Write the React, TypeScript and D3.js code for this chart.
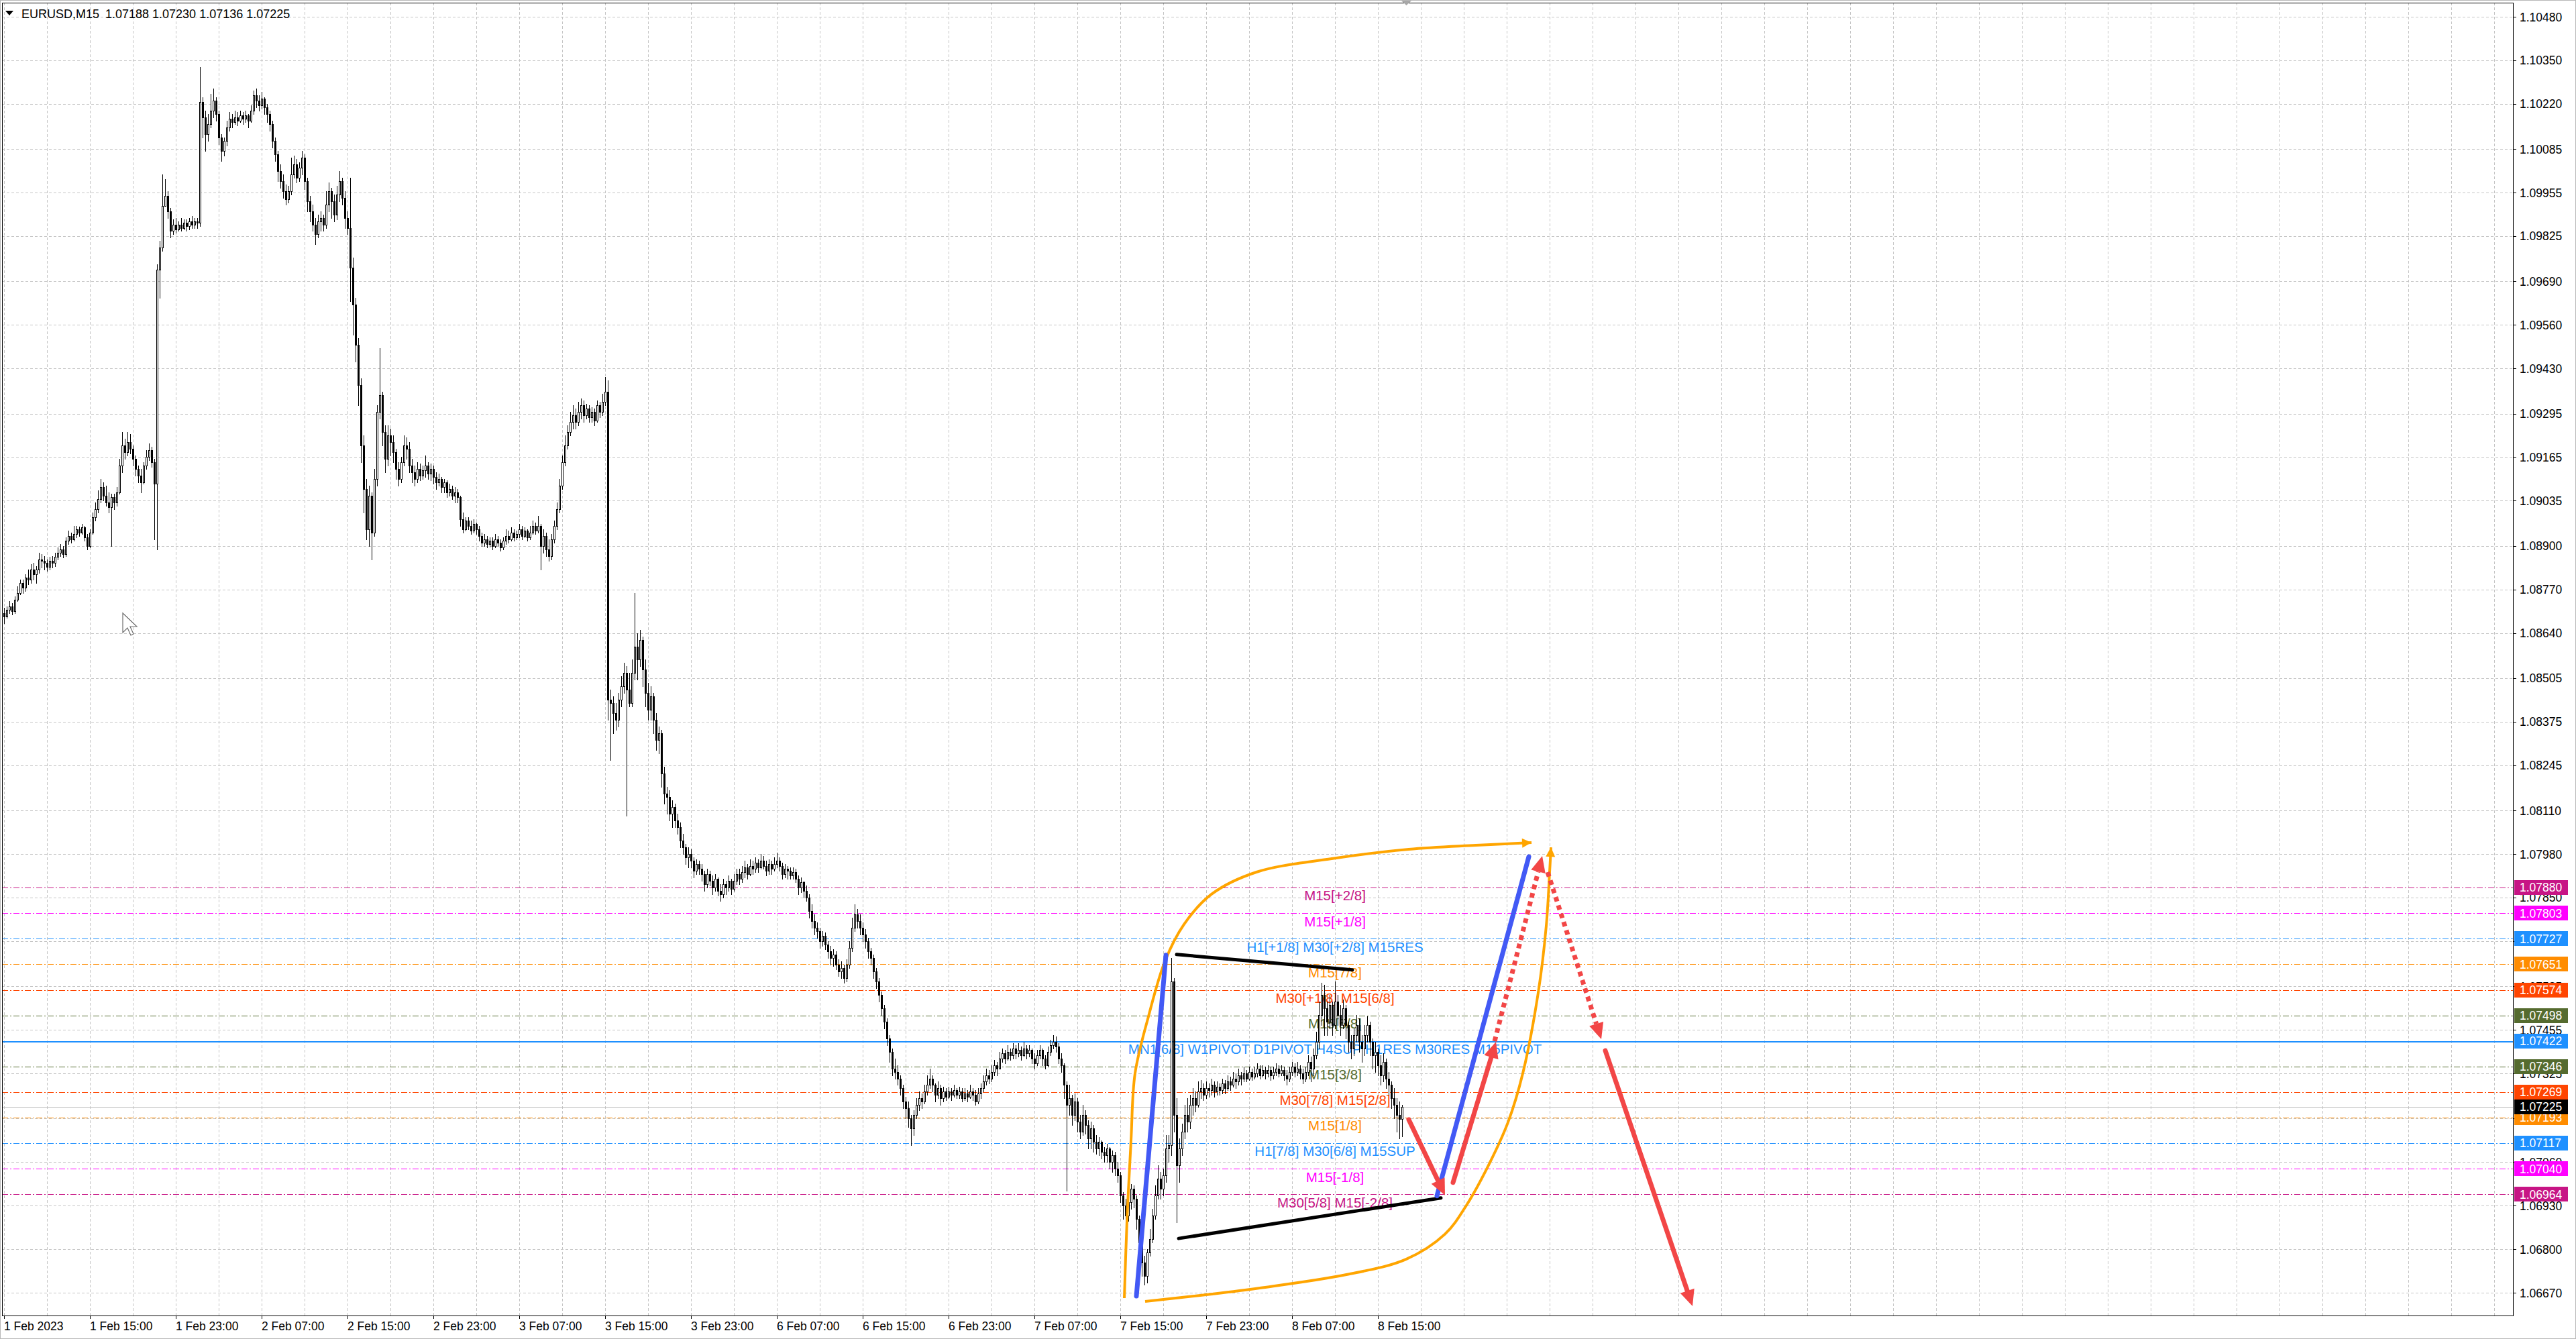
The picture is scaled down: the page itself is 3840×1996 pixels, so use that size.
import React from 'react';
import * as d3 from 'd3';

type Bar = [number, number, number]; // high, low, close (open = previous close)

const FIRST_OPEN = 1.087;

const feb1: Bar[] = [
  [1.08715,1.08670,1.08690],[1.08720,1.08685,1.08710],[1.08735,1.08700,1.08720],[1.08730,1.08695,1.08705],[1.08750,1.08700,1.08740],[1.08780,1.08735,1.08760],[1.08800,1.08755,1.08790],[1.08800,1.08760,1.08775],
  [1.08815,1.08765,1.08805],[1.08830,1.08785,1.08800],[1.08845,1.08790,1.08830],[1.08850,1.08800,1.08815],[1.08840,1.08790,1.08830],[1.08880,1.08820,1.08860],[1.08875,1.08835,1.08855],[1.08870,1.08830,1.08850],
  [1.08860,1.08825,1.08838],[1.08868,1.08830,1.08855],[1.08870,1.08835,1.08850],[1.08880,1.08840,1.08868],[1.08895,1.08860,1.08880],[1.08905,1.08870,1.08890],[1.08900,1.08865,1.08875],[1.08925,1.08870,1.08915],
  [1.08945,1.08905,1.08930],[1.08940,1.08910,1.08920],[1.08960,1.08915,1.08935],[1.08960,1.08925,1.08950],[1.08958,1.08930,1.08940],[1.08965,1.08935,1.08955],[1.08960,1.08915,1.08925],[1.08935,1.08890,1.08900],
  [1.08950,1.08895,1.08940],[1.09000,1.08935,1.08985],[1.09030,1.08975,1.09010],[1.09065,1.09000,1.09040],[1.09100,1.09030,1.09075],[1.09090,1.09035,1.09050],[1.09080,1.09020,1.09030],[1.09060,1.09000,1.09015],
  [1.09055,1.08900,1.09045],[1.09055,1.09010,1.09030],[1.09075,1.09020,1.09060],[1.09160,1.09055,1.09140],[1.09240,1.09120,1.09200],[1.09220,1.09160,1.09180],[1.09240,1.09170,1.09210],[1.09235,1.09175,1.09190],
  [1.09200,1.09140,1.09160],[1.09170,1.09110,1.09130],[1.09140,1.09090,1.09110],[1.09130,1.09060,1.09090],[1.09150,1.09085,1.09140],[1.09185,1.09130,1.09165],[1.09205,1.09155,1.09185],[1.09195,1.09135,1.09150],
  [1.09160,1.08920,1.09085],[1.09740,1.08890,1.09725],[1.09810,1.09640,1.09790],[1.10010,1.09780,1.09915],[1.09995,1.09915,1.09945],[1.09960,1.09880,1.09900],[1.09910,1.09820,1.09840],[1.09875,1.09830,1.09860],
  [1.09880,1.09835,1.09845],[1.09870,1.09840,1.09860],[1.09880,1.09840,1.09850],[1.09875,1.09845,1.09865],
];

const feb2: Bar[] = [
  [1.09875,1.09840,1.09855],[1.09880,1.09845,1.09870],[1.09885,1.09850,1.09860],[1.09880,1.09850,1.09870],[1.09880,1.09850,1.09865],[1.10330,1.09855,1.10225],[1.10240,1.10120,1.10180],[1.10200,1.10080,1.10130],
  [1.10190,1.10110,1.10160],[1.10250,1.10150,1.10200],[1.10265,1.10180,1.10230],[1.10240,1.10170,1.10190],[1.10200,1.10100,1.10120],[1.10130,1.10050,1.10080],[1.10120,1.10065,1.10110],[1.10170,1.10095,1.10150],
  [1.10195,1.10140,1.10175],[1.10190,1.10150,1.10165],[1.10200,1.10160,1.10180],[1.10195,1.10155,1.10170],[1.10200,1.10165,1.10185],[1.10195,1.10160,1.10175],[1.10200,1.10165,1.10185],[1.10190,1.10150,1.10170],
  [1.10215,1.10165,1.10200],[1.10260,1.10190,1.10245],[1.10265,1.10210,1.10230],[1.10245,1.10200,1.10215],[1.10255,1.10205,1.10235],[1.10240,1.10190,1.10210],[1.10220,1.10165,1.10190],[1.10200,1.10140,1.10160],
  [1.10170,1.10090,1.10110],[1.10120,1.10050,1.10070],[1.10080,1.09990,1.10020],[1.10040,1.09970,1.09990],[1.10010,1.09940,1.09960],[1.09980,1.09920,1.09935],[1.09975,1.09925,1.09960],[1.10060,1.09950,1.10010],
  [1.10065,1.10000,1.10040],[1.10055,1.09985,1.10000],[1.10045,1.09990,1.10030],[1.10080,1.10010,1.10060],[1.10070,1.09965,1.09990],[1.10000,1.09900,1.09930],[1.09945,1.09870,1.09900],[1.09920,1.09840,1.09860],
  [1.09880,1.09800,1.09830],[1.09890,1.09820,1.09870],[1.09900,1.09840,1.09880],[1.09890,1.09840,1.09860],[1.09960,1.09850,1.09920],[1.09985,1.09900,1.09960],[1.09970,1.09880,1.09930],[1.09950,1.09870,1.09890],
  [1.09975,1.09875,1.09950],[1.10020,1.09930,1.09990],[1.10000,1.09920,1.09940],[1.09960,1.09850,1.09880],[1.09900,1.09830,1.09850],[1.10000,1.09630,1.09730],[1.09760,1.09530,1.09620],[1.09640,1.09450,1.09500],
  [1.09520,1.09320,1.09380],[1.09400,1.09150,1.09200],[1.09230,1.09000,1.09070],[1.09100,1.08920,1.08950],[1.09080,1.08900,1.09050],[1.09060,1.08860,1.08940],[1.09130,1.08930,1.09100],[1.09320,1.09080,1.09300],
  [1.09490,1.09280,1.09350],[1.09360,1.09200,1.09240],[1.09260,1.09120,1.09160],[1.09260,1.09140,1.09230],[1.09250,1.09170,1.09210],[1.09230,1.09150,1.09180],[1.09190,1.09100,1.09130],[1.09150,1.09080,1.09100],
  [1.09165,1.09090,1.09150],[1.09230,1.09140,1.09200],[1.09225,1.09160,1.09190],[1.09210,1.09120,1.09140],[1.09160,1.09090,1.09120],[1.09140,1.09080,1.09100],[1.09150,1.09090,1.09130],[1.09145,1.09095,1.09110],
  [1.09140,1.09100,1.09125],[1.09170,1.09105,1.09140],[1.09150,1.09100,1.09115],[1.09145,1.09095,1.09130],[1.09140,1.09085,1.09105],[1.09120,1.09070,1.09090],[1.09115,1.09080,1.09100],[1.09105,1.09060,1.09075],
];

const feb3: Bar[] = [
  [1.09100,1.09060,1.09090],[1.09095,1.09045,1.09060],[1.09085,1.09050,1.09070],[1.09080,1.09040,1.09050],[1.09075,1.09030,1.09060],[1.09070,1.09030,1.09045],[1.09050,1.08960,1.08980],[1.09000,1.08940,1.08950],
  [1.08985,1.08945,1.08975],[1.08985,1.08950,1.08960],[1.08975,1.08935,1.08945],[1.08980,1.08940,1.08965],[1.08970,1.08935,1.08950],[1.08960,1.08915,1.08930],[1.08940,1.08900,1.08910],[1.08935,1.08900,1.08920],
  [1.08930,1.08895,1.08905],[1.08925,1.08898,1.08915],[1.08925,1.08890,1.08900],[1.08935,1.08895,1.08920],[1.08930,1.08900,1.08910],[1.08920,1.08885,1.08895],[1.08925,1.08890,1.08915],[1.08950,1.08905,1.08930],
  [1.08945,1.08910,1.08920],[1.08955,1.08915,1.08940],[1.08950,1.08915,1.08925],[1.08945,1.08920,1.08935],[1.08965,1.08925,1.08950],[1.08960,1.08920,1.08930],[1.08955,1.08925,1.08945],[1.08950,1.08915,1.08925],
  [1.08960,1.08920,1.08940],[1.08975,1.08935,1.08960],[1.08970,1.08935,1.08945],[1.08990,1.08940,1.08960],[1.08965,1.08830,1.08900],[1.08950,1.08880,1.08930],[1.08940,1.08870,1.08890],[1.08920,1.08855,1.08870],
  [1.08935,1.08860,1.08920],[1.08975,1.08910,1.08960],[1.09030,1.08950,1.09010],[1.09100,1.09000,1.09080],[1.09170,1.09070,1.09150],[1.09230,1.09140,1.09200],[1.09260,1.09190,1.09240],[1.09300,1.09230,1.09270],
  [1.09320,1.09250,1.09290],[1.09310,1.09250,1.09270],[1.09330,1.09260,1.09300],[1.09340,1.09280,1.09320],[1.09335,1.09270,1.09290],[1.09325,1.09280,1.09310],[1.09320,1.09270,1.09285],[1.09315,1.09270,1.09300],
  [1.09310,1.09260,1.09275],[1.09335,1.09270,1.09320],[1.09330,1.09285,1.09300],[1.09355,1.09290,1.09330],[1.09405,1.09320,1.09360],[1.09395,1.08380,1.08440],[1.08470,1.08260,1.08430],[1.08450,1.08340,1.08400],
  [1.08430,1.08350,1.08380],[1.08460,1.08360,1.08440],[1.08510,1.08420,1.08480],[1.08550,1.08460,1.08520],[1.08540,1.08095,1.08470],[1.08520,1.08420,1.08430],[1.08560,1.08420,1.08520],[1.08760,1.08500,1.08600],
  [1.08640,1.08500,1.08560],[1.08650,1.08540,1.08620],[1.08630,1.08480,1.08530],[1.08560,1.08420,1.08460],[1.08490,1.08380,1.08410],[1.08480,1.08380,1.08450],[1.08460,1.08340,1.08380],[1.08400,1.08290,1.08320],
  [1.08360,1.08280,1.08340],[1.08350,1.08180,1.08220],[1.08240,1.08130,1.08160],[1.08180,1.08100,1.08150],[1.08170,1.08080,1.08100],[1.08140,1.08060,1.08120],[1.08130,1.08060,1.08080],[1.08100,1.08040,1.08060],
  [1.08075,1.08000,1.08020],[1.08040,1.07980,1.08000],[1.08010,1.07950,1.07970],[1.08000,1.07940,1.07980],[1.07995,1.07940,1.07960],[1.07970,1.07910,1.07930],[1.07965,1.07920,1.07950],[1.07960,1.07920,1.07935],
];

const feb6: Bar[] = [
  [1.07950,1.07900,1.07920],[1.07930,1.07870,1.07890],[1.07935,1.07880,1.07920],[1.07930,1.07885,1.07900],[1.07915,1.07860,1.07880],[1.07920,1.07870,1.07905],[1.07910,1.07855,1.07870],[1.07890,1.07840,1.07860],
  [1.07905,1.07850,1.07890],[1.07900,1.07860,1.07880],[1.07915,1.07870,1.07900],[1.07905,1.07860,1.07875],[1.07920,1.07870,1.07900],[1.07935,1.07890,1.07920],[1.07935,1.07890,1.07905],[1.07945,1.07895,1.07925],
  [1.07960,1.07910,1.07940],[1.07950,1.07905,1.07920],[1.07965,1.07915,1.07945],[1.07960,1.07920,1.07935],[1.07970,1.07925,1.07955],[1.07965,1.07925,1.07940],[1.07980,1.07935,1.07960],[1.07975,1.07935,1.07945],
  [1.07960,1.07915,1.07930],[1.07965,1.07920,1.07950],[1.07960,1.07920,1.07935],[1.07970,1.07930,1.07950],[1.07985,1.07940,1.07960],[1.07970,1.07930,1.07945],[1.07955,1.07905,1.07920],[1.07950,1.07910,1.07935],
  [1.07945,1.07905,1.07930],[1.07940,1.07905,1.07915],[1.07940,1.07905,1.07925],[1.07935,1.07895,1.07905],[1.07915,1.07860,1.07880],[1.07910,1.07865,1.07895],[1.07900,1.07850,1.07870],[1.07885,1.07840,1.07850],
  [1.07860,1.07790,1.07810],[1.07830,1.07760,1.07780],[1.07800,1.07740,1.07760],[1.07775,1.07730,1.07750],[1.07760,1.07700,1.07720],[1.07750,1.07705,1.07735],[1.07745,1.07695,1.07710],[1.07720,1.07670,1.07690],
  [1.07705,1.07650,1.07670],[1.07695,1.07645,1.07680],[1.07690,1.07635,1.07650],[1.07665,1.07615,1.07630],[1.07660,1.07610,1.07640],[1.07650,1.07595,1.07610],[1.07665,1.07600,1.07650],[1.07720,1.07640,1.07700],
  [1.07790,1.07690,1.07760],[1.07830,1.07750,1.07800],[1.07815,1.07760,1.07780],[1.07800,1.07740,1.07760],[1.07775,1.07720,1.07740],[1.07755,1.07700,1.07720],[1.07730,1.07670,1.07690],[1.07700,1.07650,1.07670],
  [1.07680,1.07610,1.07630],[1.07640,1.07580,1.07600],[1.07610,1.07540,1.07560],[1.07570,1.07500,1.07520],[1.07530,1.07460,1.07480],[1.07490,1.07410,1.07430],[1.07440,1.07360,1.07390],[1.07400,1.07320,1.07340],
  [1.07370,1.07310,1.07330],[1.07350,1.07290,1.07310],[1.07320,1.07260,1.07280],[1.07290,1.07220,1.07240],[1.07255,1.07190,1.07220],[1.07240,1.07165,1.07190],[1.07200,1.07110,1.07160],[1.07215,1.07140,1.07200],
  [1.07250,1.07190,1.07230],[1.07270,1.07215,1.07250],[1.07265,1.07220,1.07240],[1.07290,1.07235,1.07270],[1.07320,1.07260,1.07290],[1.07340,1.07280,1.07310],[1.07320,1.07270,1.07290],[1.07295,1.07240,1.07260],
  [1.07300,1.07250,1.07280],[1.07290,1.07230,1.07250],[1.07285,1.07240,1.07270],[1.07280,1.07245,1.07255],[1.07285,1.07250,1.07270],[1.07280,1.07245,1.07260],[1.07290,1.07255,1.07275],[1.07280,1.07250,1.07260],
];

const feb7: Bar[] = [
  [1.07285,1.07250,1.07270],[1.07280,1.07240,1.07250],[1.07280,1.07245,1.07265],[1.07275,1.07240,1.07255],[1.07290,1.07250,1.07270],[1.07280,1.07245,1.07260],[1.07275,1.07230,1.07240],[1.07280,1.07235,1.07265],
  [1.07295,1.07250,1.07280],[1.07320,1.07270,1.07300],[1.07340,1.07290,1.07320],[1.07335,1.07295,1.07310],[1.07350,1.07300,1.07330],[1.07365,1.07320,1.07350],[1.07360,1.07320,1.07340],[1.07390,1.07340,1.07370],
  [1.07400,1.07360,1.07385],[1.07395,1.07355,1.07370],[1.07410,1.07365,1.07390],[1.07400,1.07365,1.07380],[1.07415,1.07370,1.07400],[1.07410,1.07370,1.07385],[1.07415,1.07375,1.07395],[1.07405,1.07365,1.07380],
  [1.07420,1.07375,1.07400],[1.07410,1.07370,1.07385],[1.07410,1.07375,1.07395],[1.07400,1.07355,1.07370],[1.07385,1.07340,1.07355],[1.07395,1.07350,1.07380],[1.07410,1.07370,1.07395],[1.07400,1.07350,1.07370],
  [1.07380,1.07340,1.07350],[1.07405,1.07345,1.07390],[1.07425,1.07380,1.07410],[1.07440,1.07400,1.07420],[1.07435,1.07390,1.07405],[1.07415,1.07355,1.07370],[1.07385,1.07330,1.07350],[1.07355,1.07250,1.07290],
  [1.07300,1.06975,1.07230],[1.07290,1.07200,1.07250],[1.07260,1.07170,1.07200],[1.07265,1.07185,1.07240],[1.07250,1.07150,1.07180],[1.07200,1.07130,1.07150],[1.07230,1.07140,1.07200],[1.07215,1.07145,1.07170],
  [1.07185,1.07100,1.07130],[1.07180,1.07100,1.07160],[1.07170,1.07090,1.07120],[1.07140,1.07085,1.07100],[1.07135,1.07080,1.07120],[1.07125,1.07070,1.07090],[1.07105,1.07060,1.07080],[1.07115,1.07060,1.07100],
  [1.07105,1.07040,1.07060],[1.07095,1.07030,1.07080],[1.07090,1.07020,1.07040],[1.07060,1.07000,1.07020],[1.07030,1.06940,1.06960],[1.06970,1.06890,1.06930],[1.06950,1.06880,1.06900],[1.06955,1.06885,1.06940],
  [1.06995,1.06920,1.06980],[1.06990,1.06925,1.06950],[1.06960,1.06860,1.06890],[1.06900,1.06790,1.06820],[1.06840,1.06720,1.06760],[1.06780,1.06695,1.06720],[1.06800,1.06700,1.06790],[1.06860,1.06780,1.06830],
  [1.06920,1.06820,1.06900],[1.06990,1.06890,1.06960],[1.07050,1.06950,1.07010],[1.07030,1.06950,1.06980],[1.07040,1.06960,1.07020],[1.07140,1.07000,1.07100],[1.07140,1.07060,1.07110],[1.07670,1.07080,1.07600],
  [1.07610,1.07150,1.07200],[1.07250,1.06880,1.07050],[1.07130,1.07000,1.07100],[1.07175,1.07080,1.07150],[1.07230,1.07130,1.07200],[1.07250,1.07150,1.07180],[1.07260,1.07160,1.07230],[1.07280,1.07200,1.07250],
  [1.07270,1.07210,1.07230],[1.07300,1.07225,1.07270],[1.07305,1.07250,1.07280],[1.07295,1.07245,1.07260],[1.07300,1.07250,1.07280],[1.07295,1.07255,1.07275],[1.07310,1.07260,1.07290],[1.07300,1.07255,1.07270],
];

const feb8: Bar[] = [
  [1.07300,1.07260,1.07285],[1.07295,1.07260,1.07275],[1.07310,1.07265,1.07295],[1.07305,1.07265,1.07280],[1.07320,1.07275,1.07300],[1.07315,1.07275,1.07290],[1.07330,1.07285,1.07310],[1.07325,1.07280,1.07300],
  [1.07340,1.07290,1.07320],[1.07330,1.07290,1.07310],[1.07345,1.07300,1.07325],[1.07335,1.07300,1.07310],[1.07345,1.07305,1.07330],[1.07340,1.07305,1.07315],[1.07345,1.07310,1.07325],[1.07355,1.07315,1.07340],
  [1.07350,1.07310,1.07320],[1.07350,1.07315,1.07335],[1.07345,1.07310,1.07325],[1.07350,1.07315,1.07335],[1.07345,1.07305,1.07320],[1.07345,1.07310,1.07330],[1.07355,1.07320,1.07340],[1.07350,1.07315,1.07325],
  [1.07350,1.07320,1.07335],[1.07345,1.07305,1.07320],[1.07335,1.07290,1.07310],[1.07345,1.07300,1.07330],[1.07360,1.07320,1.07345],[1.07355,1.07315,1.07330],[1.07360,1.07320,1.07340],[1.07350,1.07310,1.07325],
  [1.07340,1.07295,1.07310],[1.07345,1.07300,1.07330],[1.07380,1.07320,1.07360],[1.07375,1.07300,1.07340],[1.07400,1.07320,1.07380],[1.07450,1.07370,1.07420],[1.07540,1.07400,1.07500],[1.07595,1.07470,1.07560],
  [1.07590,1.07440,1.07520],[1.07540,1.07440,1.07480],[1.07560,1.07460,1.07530],[1.07540,1.07440,1.07470],[1.07600,1.07460,1.07540],[1.07560,1.07470,1.07500],[1.07530,1.07440,1.07470],[1.07545,1.07460,1.07520],
  [1.07530,1.07430,1.07470],[1.07480,1.07390,1.07420],[1.07440,1.07370,1.07400],[1.07460,1.07380,1.07440],[1.07500,1.07420,1.07470],[1.07490,1.07390,1.07420],[1.07440,1.07360,1.07400],[1.07470,1.07380,1.07440],
  [1.07495,1.07420,1.07470],[1.07480,1.07380,1.07420],[1.07430,1.07340,1.07380],[1.07420,1.07330,1.07390],[1.07400,1.07320,1.07350],[1.07380,1.07290,1.07320],[1.07385,1.07300,1.07360],[1.07370,1.07280,1.07310],
  [1.07330,1.07260,1.07290],[1.07300,1.07220,1.07250],[1.07280,1.07190,1.07230],[1.07250,1.07150,1.07200],[1.07240,1.07130,1.07188],[1.07230,1.07136,1.07225],
];

const priceTicks = [1.10480, 1.10350, 1.10220, 1.10085, 1.09955, 1.09825, 1.09690, 1.09560, 1.09430, 1.09295, 1.09165, 1.09035, 1.08900, 1.08770, 1.08640, 1.08505, 1.08375, 1.08245, 1.08110, 1.07980, 1.07850, 1.07720, 1.07585, 1.07455, 1.07325, 1.07190, 1.07060, 1.06930, 1.06800, 1.06670];

const timeTickBars = [0, 32, 64, 96, 128, 160, 192, 224, 256, 288, 320, 352, 384, 416, 448, 480, 512];
const timeTickLabels = ['1 Feb 2023', '1 Feb 15:00', '1 Feb 23:00', '2 Feb 07:00', '2 Feb 15:00', '2 Feb 23:00', '3 Feb 07:00', '3 Feb 15:00', '3 Feb 23:00', '6 Feb 07:00', '6 Feb 15:00', '6 Feb 23:00', '7 Feb 07:00', '7 Feb 15:00', '7 Feb 23:00', '8 Feb 07:00', '8 Feb 15:00'];

const levelPrices = [1.07880, 1.07803, 1.07727, 1.07651, 1.07574, 1.07498, 1.07422, 1.07346, 1.07269, 1.07193, 1.07117, 1.07040, 1.06964];
const levelLabels = ['M15[+2/8]', 'M15[+1/8]', 'H1[+1/8] M30[+2/8] M15RES', 'M15[7/8]', 'M30[+1/8] M15[6/8]', 'M15[5/8]', 'MN1[6/8] W1PIVOT D1PIVOT H4SUP H1RES M30RES M15PIVOT', 'M15[3/8]', 'M30[7/8] M15[2/8]', 'M15[1/8]', 'H1[7/8] M30[6/8] M15SUP', 'M15[-1/8]', 'M30[5/8] M15[-2/8]'];
const levelColors = ['#C71585', '#FF00FF', '#1E90FF', '#FF8C00', '#FF4500', '#556B2F', '#1E90FF', '#556B2F', '#FF4500', '#FF8C00', '#1E90FF', '#FF00FF', '#C71585'];
const LABEL_BAR = 496;

const CURRENT_PRICE = 1.07225;

// drawings: [bar index, price]
const orangeCurveA: [number, number][] = [[417.5,1.06654],[418.5,1.06885],[420,1.07125],[421.5,1.07325],[426.5,1.07495],[432.75,1.07662],[439.75,1.07770],[450,1.07860],[466.75,1.07926],[494.75,1.07966],[523.5,1.07994],[548.5,1.08006],[569.25,1.08014]];
const orangeCurveB: [number, number][] = [[425.25,1.06644],[450.25,1.06666],[468,1.06684],[500.25,1.06724],[522.5,1.06770],[537,1.06845],[545,1.06931],[553.75,1.07059],[560.5,1.07179],[566,1.07325],[571.75,1.07566],[574.75,1.07766],[576,1.07926],[576.5,1.08000]];
const blueLines: [number, number][][] = [[[422,1.06660],[433,1.07678]], [[534,1.06959],[568.25,1.07972]]];
const blackLines: [number, number][][] = [[[437,1.07680],[502.5,1.07634]], [[437.75,1.06832],[535.5,1.06953]]];
const redArrows: [number, number][][] = [[[523.5,1.07187],[537,1.06961]], [[540,1.06999],[556,1.07419]], [[596.75,1.07393],[629.25,1.06630]]];
const redDottedArrows: [number, number][][] = [[[555.5,1.07421],[573.25,1.07974]], [[575.25,1.07926],[595.25,1.07427]]];

const FONT = '"Liberation Sans", Arial, sans-serif';

function arrowHead(x1: number, y1: number, x2: number, y2: number, len: number, half: number) {
  const dx = x2 - x1, dy = y2 - y1;
  const d = Math.hypot(dx, dy);
  const ux = dx / d, uy = dy / d;
  const bx = x2 - ux * len, by = y2 - uy * len;
  const px = -uy, py = ux;
  return {
    pts: `${x2},${y2} ${bx + px * half},${by + py * half} ${bx - px * half},${by - py * half}`,
    bx, by,
  };
}

export default function App() {
  const W = 3840, H = 1996;
  const plotL = 3, plotR = 3746, plotT = 4, plotB = 1961;
  const x = d3.scaleLinear().domain([0, 521]).range([6, 2090]);
  const y = d3.scaleLinear().domain([1.0667, 1.1048]).range([1927, 25]);

  const bars = [...feb1, ...feb2, ...feb3, ...feb6, ...feb7, ...feb8];
  let prev = FIRST_OPEN;
  const candles = bars.map(([h, l, c], i) => {
    const o = prev;
    prev = c;
    return { i, o, h, l, c };
  });

  const vGrid: number[] = [];
  for (let b = 0; x(b) < plotR; b += 16) vGrid.push(x(b));

  const line = d3.line<[number, number]>().x(d => x(d[0])).y(d => y(d[1]));
  const curve = d3.line<[number, number]>().x(d => x(d[0])).y(d => y(d[1])).curve(d3.curveCatmullRom.alpha(0.5));

  const red = '#F24646';
  const blue = '#4259F5';
  const orange = '#FFA500';

  const renderArrow = (seg: [number, number][], key: string, dotted: boolean) => {
    const x1 = x(seg[0][0]), y1 = y(seg[0][1]), x2 = x(seg[1][0]), y2 = y(seg[1][1]);
    const ah = arrowHead(x1, y1, x2, y2, 24, 11);
    return (
      <g key={key}>
        <line x1={x1} y1={y1} x2={ah.bx} y2={ah.by} stroke={red} strokeWidth={7}
          strokeDasharray={dotted ? '7 6' : undefined} strokeLinecap={dotted ? 'butt' : 'round'} />
        <polygon points={ah.pts} fill={red} />
      </g>
    );
  };

  const orangeHead = (pts: [number, number][], key: string) => {
    const a = pts[pts.length - 2], b = pts[pts.length - 1];
    const ah = arrowHead(x(a[0]), y(a[1]), x(b[0]), y(b[1]), 14, 7);
    return <polygon key={key} points={ah.pts} fill={orange} />;
  };

  return (
    <svg width={W} height={H} viewBox={`0 0 ${W} ${H}`}
      style={{ position: 'absolute', left: 0, top: 0, background: '#fff', display: 'block' }}>
      <defs>
        <clipPath id="plot">
          <rect x={plotL} y={plotT} width={plotR - plotL} height={plotB - plotT} />
        </clipPath>
      </defs>
      <rect x={0} y={0} width={W} height={H} fill="#fff" />
      <rect x={0.5} y={0.5} width={W - 1} height={H - 1} fill="none" stroke="#B8B8B8" />

      <g clipPath="url(#plot)">
        {/* grid */}
        <g stroke="#C4C4C4" strokeWidth={1} strokeDasharray="4 3" shapeRendering="crispEdges">
          {vGrid.map((gx, k) => <line key={'vg' + k} x1={gx + 0.5} x2={gx + 0.5} y1={plotT} y2={plotB} />)}
          {priceTicks.map((p, k) => <line key={'hg' + k} x1={plotL} x2={plotR} y1={Math.round(y(p)) + 0.5} y2={Math.round(y(p)) + 0.5} />)}
        </g>

        {/* current price line */}
        <line x1={plotL} x2={plotR} y1={Math.round(y(CURRENT_PRICE)) + 0.5} y2={Math.round(y(CURRENT_PRICE)) + 0.5}
          stroke="#C0C0C0" strokeWidth={1} shapeRendering="crispEdges" />

        {/* level lines */}
        {levelPrices.map((p, k) => (
          <line key={'lv' + k} x1={plotL} x2={plotR} y1={Math.round(y(p)) + 0.5} y2={Math.round(y(p)) + 0.5}
            stroke={levelColors[k]} strokeWidth={k === 6 ? 2 : 1}
            strokeDasharray={k === 6 ? undefined : '9 3 2 3'} shapeRendering="crispEdges" />
        ))}

        {/* level labels */}
        {levelPrices.map((p, k) => (
          <text key={'lt' + k} x={x(LABEL_BAR)} y={y(p) + 19.5} textAnchor="middle"
            fontFamily={FONT} fontSize={20.5} fill={levelColors[k]}>{levelLabels[k]}</text>
        ))}

        {/* candles */}
        <g shapeRendering="crispEdges">
          {candles.map(d => {
            const cx = Math.round(x(d.i));
            const hi = Math.max(d.h, d.o, d.c), lo = Math.min(d.l, d.o, d.c);
            const yt = Math.round(y(Math.max(d.o, d.c)));
            const yb = Math.round(y(Math.min(d.o, d.c)));
            const bull = d.c > d.o;
            return (
              <g key={'c' + d.i}>
                <line x1={cx + 0.5} x2={cx + 0.5} y1={Math.round(y(hi))} y2={Math.round(y(lo)) + 1} stroke="#000" strokeWidth={1} />
                {yb - yt < 1 ? (
                  <line x1={cx - 1} x2={cx + 2} y1={yt + 0.5} y2={yt + 0.5} stroke="#000" strokeWidth={1} />
                ) : (
                  <rect x={cx - 0.5} y={yt + 0.5} width={2} height={yb - yt} fill={bull ? '#fff' : '#000'} stroke="#000" strokeWidth={1} />
                )}
              </g>
            );
          })}
        </g>

        {/* drawings */}
        <path d={curve(orangeCurveA.slice(0, -1).concat([orangeCurveA[orangeCurveA.length - 1]])) || ''} fill="none" stroke={orange} strokeWidth={4} />
        <path d={curve(orangeCurveB) || ''} fill="none" stroke={orange} strokeWidth={4} />
        {orangeHead(orangeCurveA, 'oha')}
        {orangeHead(orangeCurveB, 'ohb')}

        {blackLines.map((s, k) => (
          <path key={'bk' + k} d={line(s) || ''} stroke="#000" strokeWidth={5} strokeLinecap="round" fill="none" />
        ))}
        {blueLines.map((s, k) => (
          <path key={'bl' + k} d={line(s) || ''} stroke={blue} strokeWidth={7} strokeLinecap="round" fill="none" />
        ))}
        {redArrows.map((s, k) => renderArrow(s, 'ra' + k, false))}
        {redDottedArrows.map((s, k) => renderArrow(s, 'rd' + k, true))}

        {/* mouse cursor */}
        <polygon points="183,914 183,943 190,936 195,947 199,945 194,934 204,934" fill="#fff" stroke="#707070" strokeWidth={1.2} />
      </g>

      {/* frame */}
      <rect x={plotL + 0.5} y={plotT + 0.5} width={plotR - plotL} height={plotB - plotT} fill="none" stroke="#000" strokeWidth={1.3} shapeRendering="crispEdges" />

      {/* shift marker */}
      <polygon points="2089,1 2104,1 2096.5,8" fill="#A8A8A8" />

      {/* header */}
      <polygon points="8,16 20,16 14,23" fill="#000" />
      <text x={32} y={27} fontFamily={FONT} fontSize={18} fill="#000">EURUSD,M15</text>
      <text x={157} y={27} fontFamily={FONT} fontSize={18} fill="#000">1.07188 1.07230 1.07136 1.07225</text>

      {/* price axis */}
      <g fontFamily={FONT} fontSize={17.5} fill="#000">
        {priceTicks.map((p, k) => (
          <g key={'pt' + k}>
            <line x1={plotR + 1} x2={plotR + 5} y1={Math.round(y(p)) + 0.5} y2={Math.round(y(p)) + 0.5} stroke="#000" shapeRendering="crispEdges" />
            <text x={3756} y={y(p) + 6.5}>{p.toFixed(5)}</text>
          </g>
        ))}
      </g>

      {/* price boxes */}
      {levelPrices.map((p, k) => (
        <g key={'pb' + k}>
          <rect x={3748} y={Math.round(y(p)) - 11} width={80} height={22} fill={levelColors[k]} />
          <text x={3756} y={y(p) + 6.5} fontFamily={FONT} fontSize={17.5} fill="#fff">{p.toFixed(5)}</text>
        </g>
      ))}
      <g>
        <rect x={3748} y={Math.round(y(CURRENT_PRICE)) - 11} width={80} height={22} fill="#000" />
        <text x={3756} y={y(CURRENT_PRICE) + 6.5} fontFamily={FONT} fontSize={17.5} fill="#fff">{CURRENT_PRICE.toFixed(5)}</text>
      </g>

      {/* time axis */}
      <g fontFamily={FONT} fontSize={17.5} fill="#000">
        {timeTickBars.map((b, k) => (
          <g key={'tt' + k}>
            <line x1={Math.round(x(b)) + 0.5} x2={Math.round(x(b)) + 0.5} y1={plotB + 1} y2={plotB + 5} stroke="#000" shapeRendering="crispEdges" />
            <text x={x(b)} y={1983}>{timeTickLabels[k]}</text>
          </g>
        ))}
      </g>
    </svg>
  );
}
